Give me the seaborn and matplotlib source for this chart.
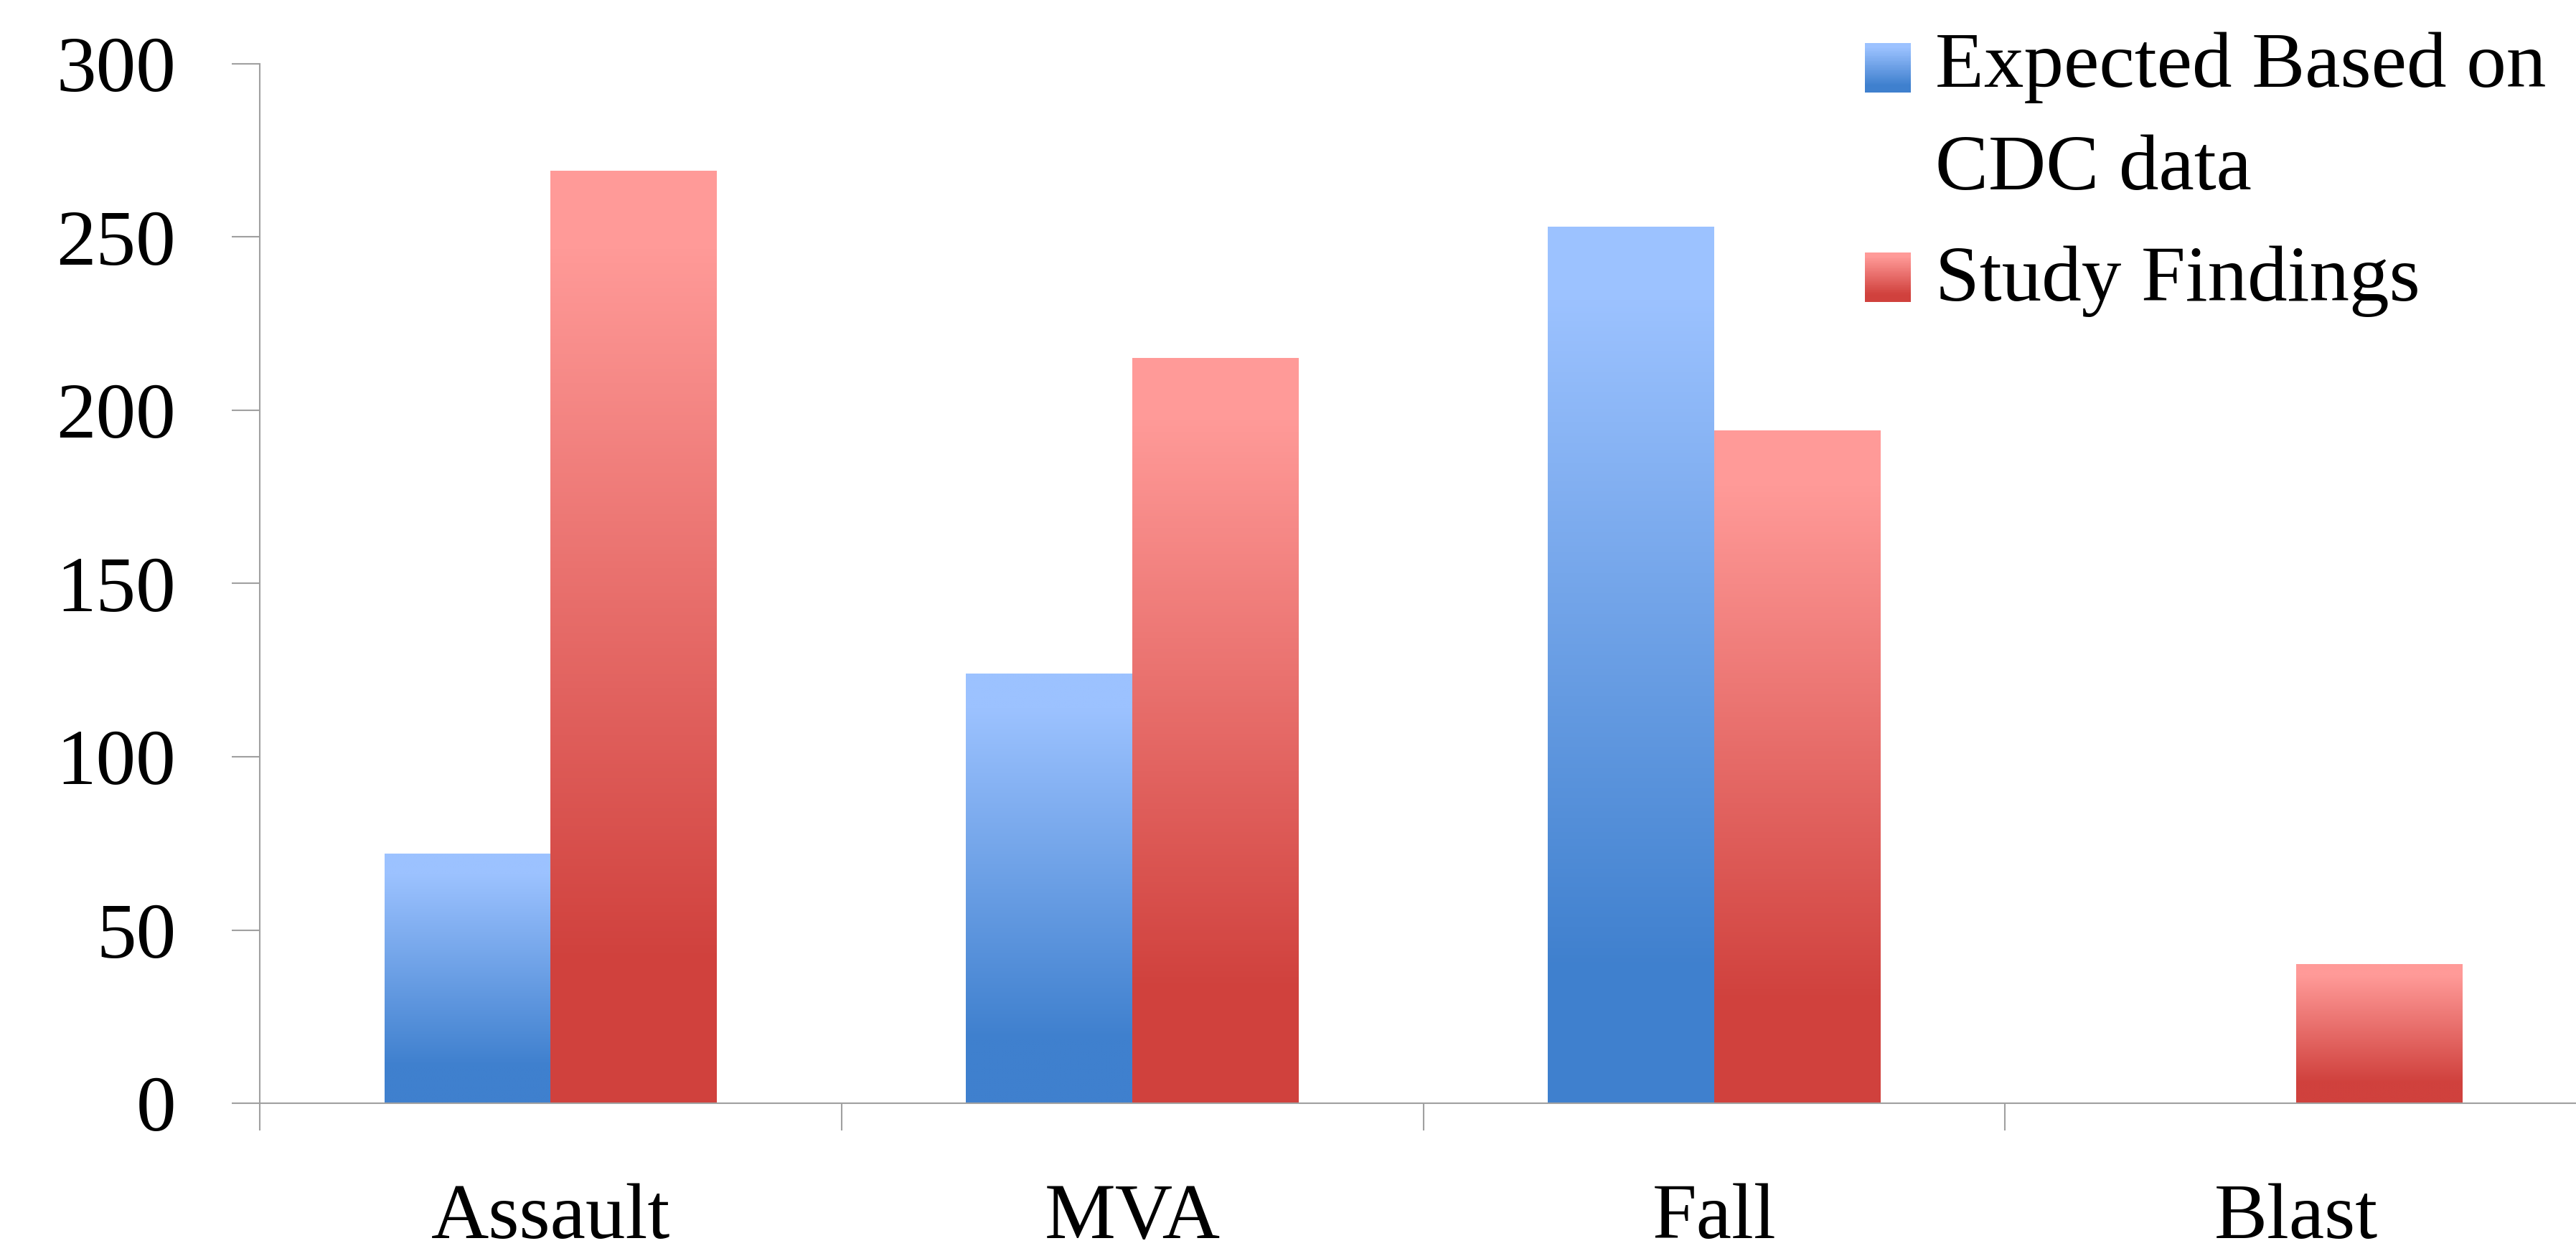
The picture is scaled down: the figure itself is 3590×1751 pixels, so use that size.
import matplotlib
matplotlib.use("Agg")
import matplotlib.pyplot as plt
import numpy as np
import pandas as pd
import seaborn as sns
from matplotlib.colors import LinearSegmentedColormap
from matplotlib.legend_handler import HandlerBase
from matplotlib.patches import Rectangle

# data
categories = ["Assault", "MVA", "Fall", "Blast"]
expected = [72, 124, 253, 0]
study = [269, 215, 194, 40]
series = ["Expected Based on\nCDC data", "Study Findings"]
yticks = [0, 50, 100, 150, 200, 250, 300]

blue_light, blue_dark = "#9cc2ff", "#3f80ce"
red_light, red_dark = "#ff9a98", "#d0413d"
axis_grey = "#a0a0a0"

df = pd.DataFrame({
    "category": categories * 2,
    "series": [series[0]] * len(categories) + [series[1]] * len(categories),
    "value": expected + study,
})


def grad_cmap(light, dark):
    return LinearSegmentedColormap.from_list(
        "g", [(0, light), (0.08, light), (0.85, dark), (1, dark)])


cmaps = [grad_cmap(blue_light, blue_dark), grad_cmap(red_light, red_dark)]

sns.set_theme(style="white")
plt.rcParams["font.family"] = ["Liberation Serif", "DejaVu Serif"]
plt.rcParams["text.color"] = "black"

W, H = 3591, 1751
fig = plt.figure(figsize=(W / 100, H / 100), dpi=100)
ax = fig.add_axes([362 / W, 1 - 1538 / H, (3605 - 362) / W, (1538 - 89) / H])

sns.barplot(data=df, x="category", y="value", hue="series", order=categories,
            hue_order=series, palette=[blue_dark, red_dark], saturation=1,
            width=0.572, gap=0, ax=ax, legend=False)

# vertical gradient fill, light at top -> dark at bottom, per bar
grad = np.linspace(1, 0, 256).reshape(-1, 1)
for cont, cm in zip(ax.containers, cmaps):
    for bar in cont:
        h = bar.get_height()
        if h <= 0:
            bar.set_visible(False)
            continue
        x0 = bar.get_x()
        x1 = x0 + bar.get_width()
        bar.set_facecolor("none")
        bar.set_edgecolor("none")
        ax.imshow(grad, cmap=cm, vmin=0, vmax=1, origin="lower", aspect="auto",
                  extent=(x0, x1, 0, h), interpolation="bilinear", zorder=2)

ax.set_xlim(-0.5, len(categories) - 0.5)
ax.set_ylim(0, 300)
ax.set_yticks(yticks)
ax.set_xticks(range(len(categories)))
ax.set_xticks(np.arange(-0.5, len(categories), 1.0), minor=True)
ax.set_xticklabels(categories)
ax.set_xlabel("")
ax.set_ylabel("")

for side in ["top", "right"]:
    ax.spines[side].set_visible(False)
for side in ["left", "bottom"]:
    ax.spines[side].set_color(axis_grey)
    ax.spines[side].set_linewidth(1.5)

ax.tick_params(axis="y", left=True, length=28, width=1.5, color=axis_grey,
               pad=56, labelsize=80, labelcolor="black")
ax.tick_params(axis="x", which="major", bottom=True, length=0, pad=80,
               labelsize=80, labelcolor="black")
ax.tick_params(axis="x", which="minor", bottom=True, length=27, width=1.5,
               color=axis_grey)


class GradientHandler(HandlerBase):
    def __init__(self, cmap, shift=0.0):
        super().__init__()
        self.cmap = cmap
        self.shift = shift

    def create_artists(self, legend, orig_handle, xdescent, ydescent,
                       width, height, fontsize, trans):
        n = 40
        out = []
        for i in range(n):
            c = self.cmap(1 - (i + 0.5) / n)
            r = Rectangle((-xdescent, -ydescent + self.shift + i * height / n),
                          width, height / n * 1.05, facecolor=c,
                          edgecolor="none", linewidth=0, transform=trans)
            out.append(r)
        return out


handles = [Rectangle((0, 0), 1, 1), Rectangle((0, 0), 1, 1)]
hmap = {handles[0]: GradientHandler(cmaps[0], shift=50),
        handles[1]: GradientHandler(cmaps[1], shift=-5)}
leg = ax.legend(handles, series, handler_map=hmap, loc="upper left",
                bbox_to_anchor=(2599 / W, 1 - 44 / H), bbox_transform=fig.transFigure,
                frameon=False, fontsize=80, handlelength=0.58, handleheight=0.58,
                handletextpad=0.3, labelspacing=0.5, borderpad=0, borderaxespad=0)
for t in leg.get_texts():
    t.set_linespacing(1.57)
    t.set_color("black")

fig.savefig("out.png", dpi=100, facecolor="white")
